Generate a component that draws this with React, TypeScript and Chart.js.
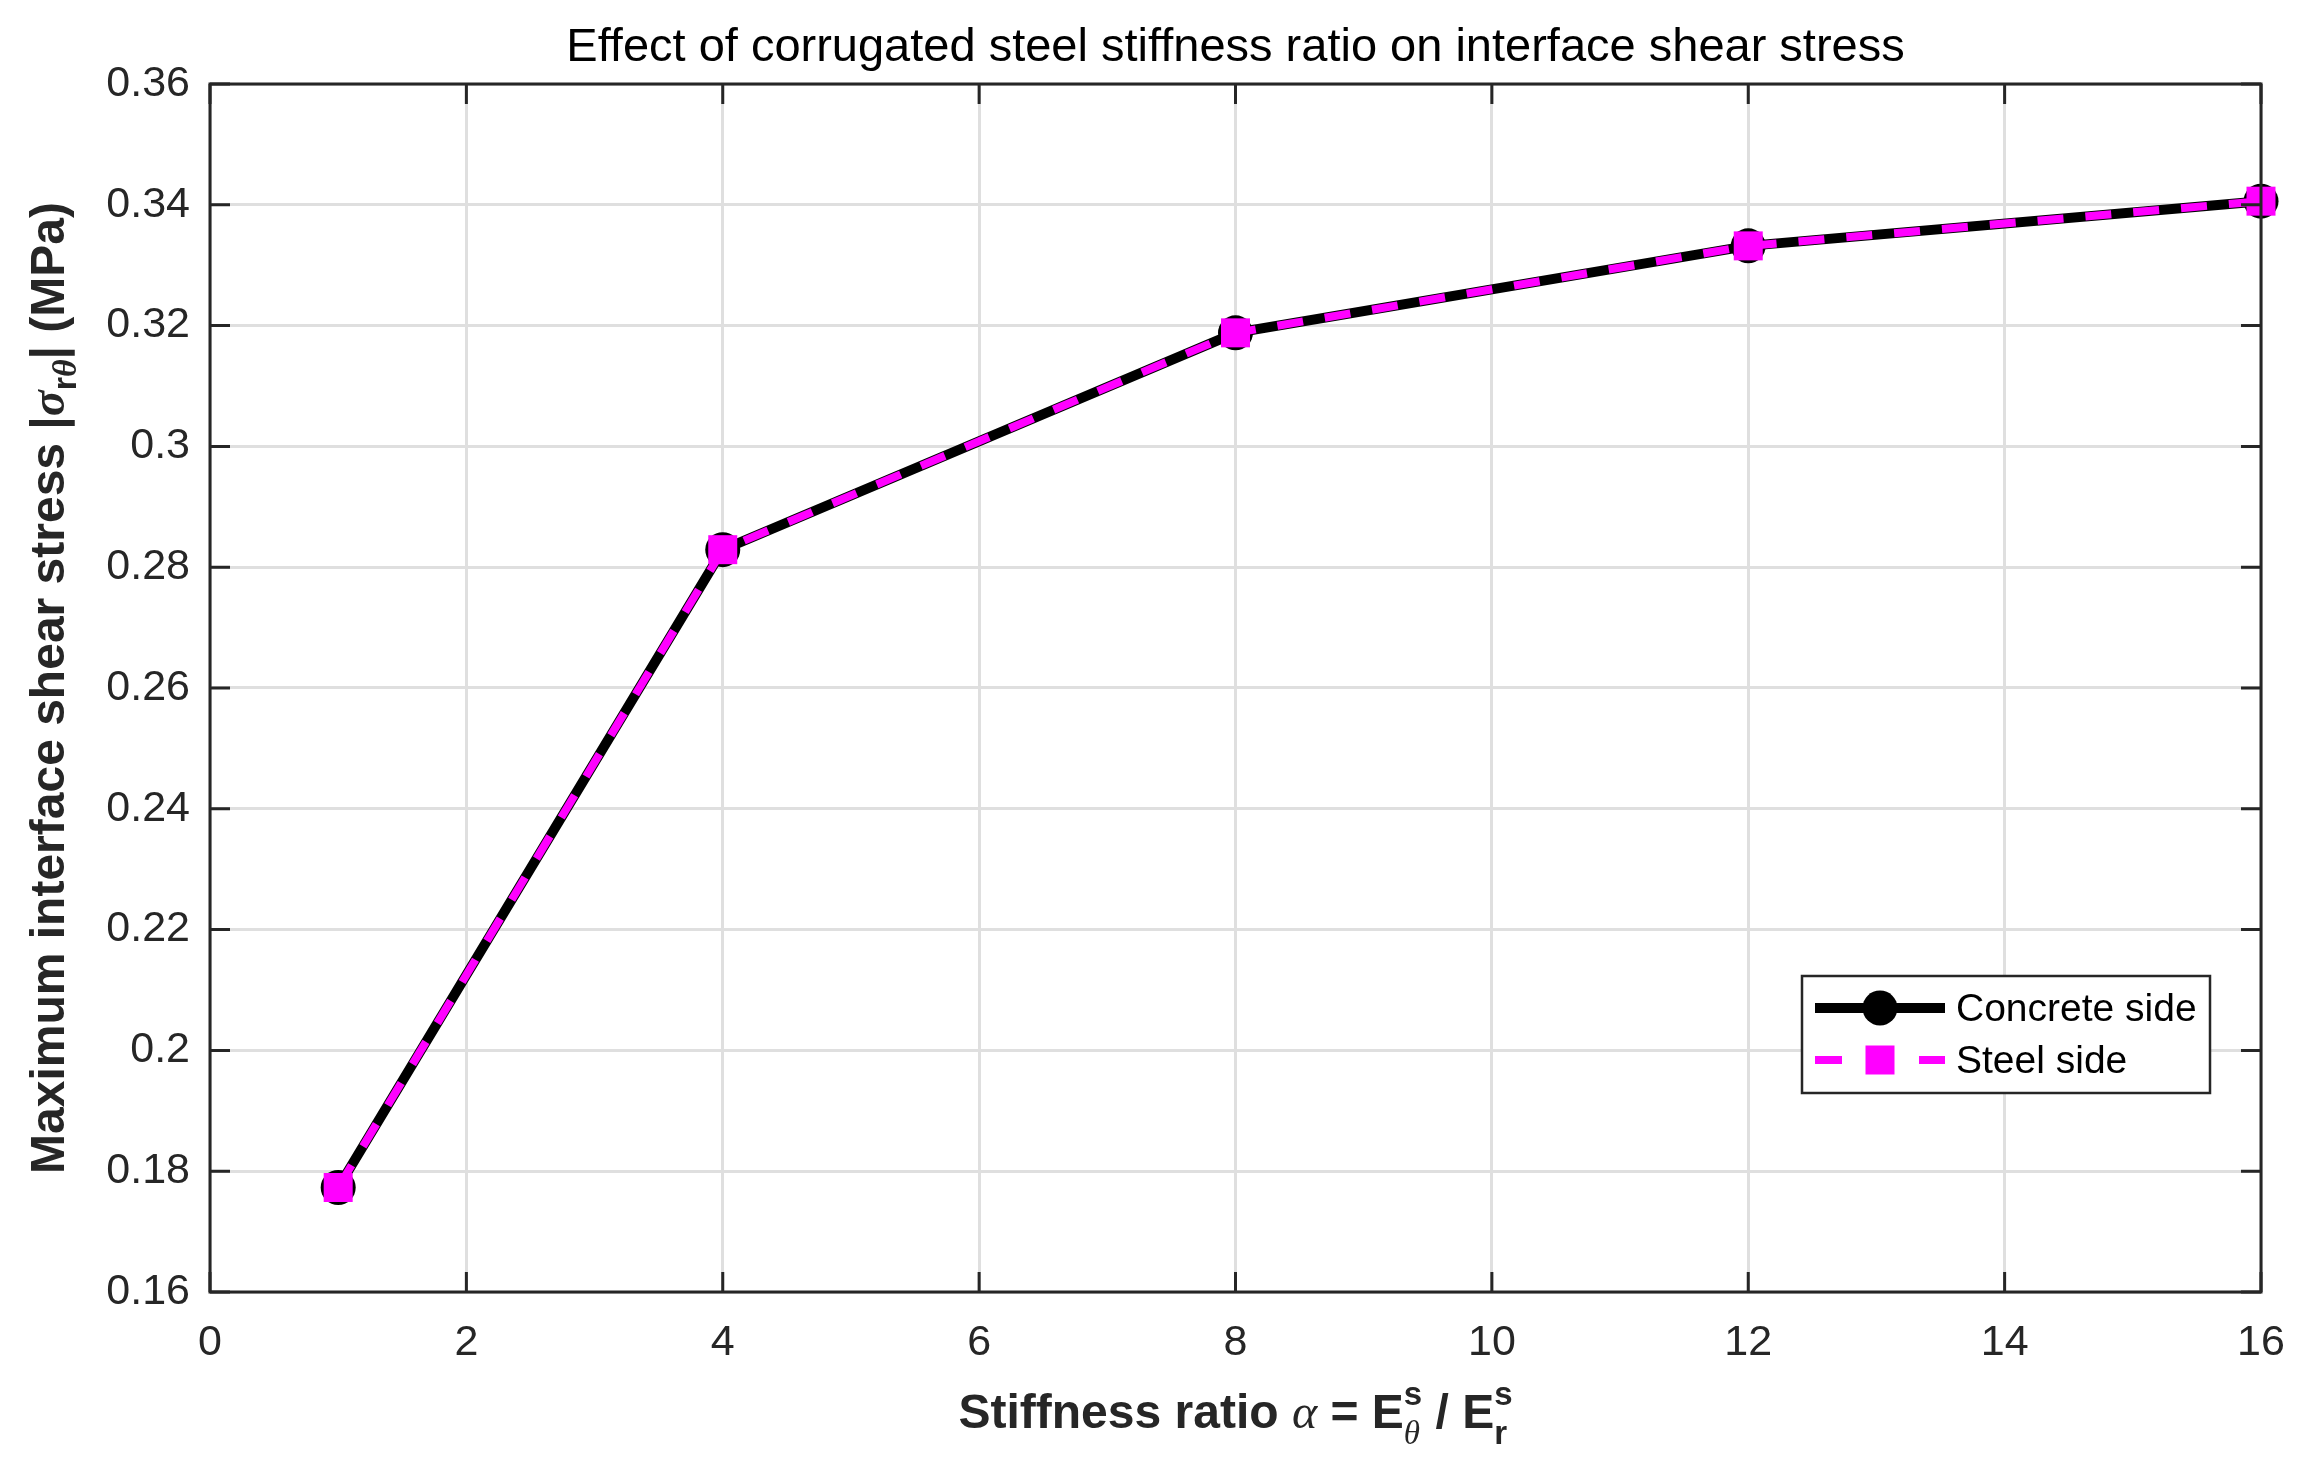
import React, { useEffect, useRef } from "react";
import { Chart, registerables } from "chart.js";

Chart.register(...registerables);

// data
const stiffnessRatio = [1, 4, 8, 12, 16];
const concreteSide = [0.1773, 0.2829, 0.3188, 0.3332, 0.3406];
const steelSide = [0.1773, 0.2829, 0.3188, 0.3332, 0.3406];

const xTicks = [0, 2, 4, 6, 8, 10, 12, 14, 16];
const yTicks = [0.16, 0.18, 0.2, 0.22, 0.24, 0.26, 0.28, 0.3, 0.32, 0.34, 0.36];

const seriesNames = ["Concrete side", "Steel side"];
const chartTitle = "Effect of corrugated steel stiffness ratio on interface shear stress";

const SANS = '"Liberation Sans", Arial, Helvetica, sans-serif';
const SERIF = '"Liberation Serif", "Times New Roman", serif';
const AXIS_COLOR = "#262626";

type Seg = { t?: string; font?: string; stack?: { t: string; font: string; dy: number }[] };

// draws a line of mixed fonts (with stacked super/subscripts), centred on cx
function drawRich(ctx: CanvasRenderingContext2D, segs: Seg[], cx: number, baseline: number) {
  const widths = segs.map((s) => {
    if (s.stack) {
      return Math.max(
        ...s.stack.map((p) => {
          ctx.font = p.font;
          return ctx.measureText(p.t).width;
        })
      );
    }
    ctx.font = s.font!;
    return ctx.measureText(s.t!).width;
  });
  const total = widths.reduce((a, b) => a + b, 0);
  let x = cx - total / 2;
  ctx.textAlign = "left";
  ctx.textBaseline = "alphabetic";
  segs.forEach((s, i) => {
    if (s.stack) {
      s.stack.forEach((p) => {
        ctx.font = p.font;
        ctx.fillText(p.t, x, baseline + p.dy);
      });
    } else {
      ctx.font = s.font!;
      ctx.fillText(s.t!, x, baseline);
    }
    x += widths[i];
  });
}

const bold = (px: number) => `bold ${px}px ${SANS}`;

const titlesPlugin = {
  id: "titles",
  afterDraw(chart: Chart) {
    const { ctx, chartArea } = chart;
    const cx = (chartArea.left + chartArea.right) / 2;
    ctx.save();

    // chart title, centred over the axes like MATLAB
    ctx.fillStyle = "#000000";
    ctx.font = `47px ${SANS}`;
    ctx.textAlign = "center";
    ctx.textBaseline = "middle";
    ctx.fillText(chartTitle, cx, 48);

    ctx.fillStyle = "#262626";
    drawRich(
      ctx,
      [
        { t: "Stiffness ratio ", font: bold(48) },
        { t: "\u03B1", font: `italic 48px ${SERIF}` },
        { t: " = E", font: bold(48) },
        {
          stack: [
            { t: "s", font: bold(33), dy: -23 },
            { t: "\u03B8", font: `italic 33px ${SERIF}`, dy: 16 },
          ],
        },
        { t: " / E", font: bold(48) },
        {
          stack: [
            { t: "s", font: bold(33), dy: -23 },
            { t: "r", font: bold(33), dy: 16 },
          ],
        },
      ],
      cx,
      1428
    );

    ctx.translate(64, (chartArea.top + chartArea.bottom) / 2);
    ctx.rotate(-Math.PI / 2);
    drawRich(
      ctx,
      [
        { t: "Maximum interface shear stress |", font: bold(48) },
        { t: "\u03C3", font: `bold italic 48px ${SERIF}` },
        { stack: [{ t: "r", font: bold(34), dy: 12 }] },
        { stack: [{ t: "\u03B8", font: `bold italic 34px ${SERIF}`, dy: 12 }] },
        { t: "| (MPa)", font: bold(48) },
      ],
      0,
      0
    );
    ctx.restore();
  },
};

// MATLAB style box with inward tick marks on all four sides
const boxPlugin = {
  id: "axesBox",
  afterDatasetsDraw(chart: Chart) {
    const { ctx, chartArea } = chart;
    const xs = chart.scales.x;
    const ys = chart.scales.y;
    const len = 20;
    ctx.save();
    ctx.strokeStyle = AXIS_COLOR;
    ctx.lineWidth = 3;
    ctx.beginPath();
    xTicks.forEach((v) => {
      const px = xs.getPixelForValue(v);
      ctx.moveTo(px, chartArea.bottom);
      ctx.lineTo(px, chartArea.bottom - len);
      ctx.moveTo(px, chartArea.top);
      ctx.lineTo(px, chartArea.top + len);
    });
    yTicks.forEach((v) => {
      const py = ys.getPixelForValue(v);
      ctx.moveTo(chartArea.left, py);
      ctx.lineTo(chartArea.left + len, py);
      ctx.moveTo(chartArea.right, py);
      ctx.lineTo(chartArea.right - len, py);
    });
    ctx.stroke();
    ctx.strokeRect(
      chartArea.left,
      chartArea.top,
      chartArea.right - chartArea.left,
      chartArea.bottom - chartArea.top
    );
    ctx.restore();
  },
};

const legendPlugin = {
  id: "matlabLegend",
  afterDraw(chart: Chart) {
    const { ctx, chartArea } = chart;
    const w = 408;
    const h = 117;
    const left = chartArea.right - 51 - w;
    const top = chartArea.bottom - 199 - h;
    ctx.save();
    ctx.fillStyle = "#ffffff";
    ctx.fillRect(left, top, w, h);
    ctx.strokeStyle = AXIS_COLOR;
    ctx.lineWidth = 2.5;
    ctx.strokeRect(left, top, w, h);

    const rows = [top + 32, top + 84];
    const x0 = left + 13;
    const x1 = left + 143;
    const mx = (x0 + x1) / 2;

    // concrete side sample
    ctx.strokeStyle = "#000000";
    ctx.lineWidth = 10;
    ctx.setLineDash([]);
    ctx.beginPath();
    ctx.moveTo(x0, rows[0]);
    ctx.lineTo(x1, rows[0]);
    ctx.stroke();
    ctx.fillStyle = "#000000";
    ctx.beginPath();
    ctx.arc(mx, rows[0], 17.5, 0, Math.PI * 2);
    ctx.fill();

    // steel side sample
    ctx.strokeStyle = "#ff00ff";
    ctx.lineWidth = 8;
    ctx.setLineDash([27, 77]);
    ctx.beginPath();
    ctx.moveTo(x0, rows[1]);
    ctx.lineTo(x1, rows[1]);
    ctx.stroke();
    ctx.setLineDash([]);
    ctx.fillStyle = "#ff00ff";
    ctx.fillRect(mx - 14.5, rows[1] - 14.5, 29, 29);

    ctx.fillStyle = "#000000";
    ctx.font = `39px ${SANS}`;
    ctx.textAlign = "left";
    ctx.textBaseline = "middle";
    seriesNames.forEach((name, i) => ctx.fillText(name, left + 154, rows[i] + 2));
    ctx.restore();
  },
};

const App: React.FC = () => {
  const canvasRef = useRef<HTMLCanvasElement | null>(null);

  useEffect(() => {
    const ctx = canvasRef.current?.getContext("2d");
    if (!ctx) return;

    const chart = new Chart(ctx, {
      type: "line",
      data: {
        datasets: [
          {
            label: seriesNames[0],
            data: stiffnessRatio.map((x, i) => ({ x, y: concreteSide[i] })),
            borderColor: "#000000",
            borderWidth: 10,
            pointStyle: "circle",
            pointRadius: 17.5,
            pointBackgroundColor: "#000000",
            pointBorderColor: "#000000",
            pointBorderWidth: 0,
            clip: false,
            order: 2,
          },
          {
            label: seriesNames[1],
            data: stiffnessRatio.map((x, i) => ({ x, y: steelSide[i] })),
            borderColor: "#ff00ff",
            borderWidth: 8,
            borderDash: [26, 22],
            pointStyle: "rect",
            pointRadius: 20.5,
            pointBackgroundColor: "#ff00ff",
            pointBorderWidth: 0,
            clip: false,
            order: 1,
          },
        ],
      },
      options: {
        responsive: true,
        maintainAspectRatio: false,
        animation: false,
        devicePixelRatio: 1,
        layout: { autoPadding: false, padding: { left: 0, right: 42, top: 84, bottom: 0 } },
        scales: {
          x: {
            type: "linear",
            min: 0,
            max: 16,
            afterBuildTicks: (scale: any) => {
              scale.ticks = xTicks.map((value) => ({ value }));
            },
            afterFit: (scale: any) => {
              scale.height = 188;
              // keep the plot box fixed; tick labels may overhang
              scale.paddingLeft = 0;
              scale.paddingRight = 0;
            },
            ticks: {
              font: { family: SANS, size: 43 },
              color: "#262626",
              padding: 25,
              maxRotation: 0,
              callback: (v: any) => String(v),
            },
            grid: { color: "#dfdfdf", lineWidth: 3, drawTicks: false },
            border: { display: false },
          },
          y: {
            type: "linear",
            min: 0.16,
            max: 0.36,
            afterBuildTicks: (scale: any) => {
              scale.ticks = yTicks.map((value) => ({ value }));
            },
            afterFit: (scale: any) => {
              scale.width = 210;
              scale.paddingTop = 0;
              scale.paddingBottom = 0;
            },
            ticks: {
              font: { family: SANS, size: 43 },
              color: "#262626",
              padding: 20,
              callback: (v: any) => String(Number(Number(v).toFixed(2))),
            },
            grid: { color: "#dfdfdf", lineWidth: 3, drawTicks: false },
            border: { display: false },
          },
        },
        plugins: {
          legend: { display: false },
          tooltip: { enabled: false },
          title: { display: false },
        },
      },
      plugins: [boxPlugin, titlesPlugin, legendPlugin],
    });

    return () => chart.destroy();
  }, []);

  return (
    <div
      style={{
        position: "absolute",
        left: 0,
        top: 0,
        width: 2303,
        height: 1480,
        background: "#ffffff",
      }}
    >
      <canvas ref={canvasRef} role="img" aria-label="Interface shear stress versus stiffness ratio" />
    </div>
  );
};

export default App;
